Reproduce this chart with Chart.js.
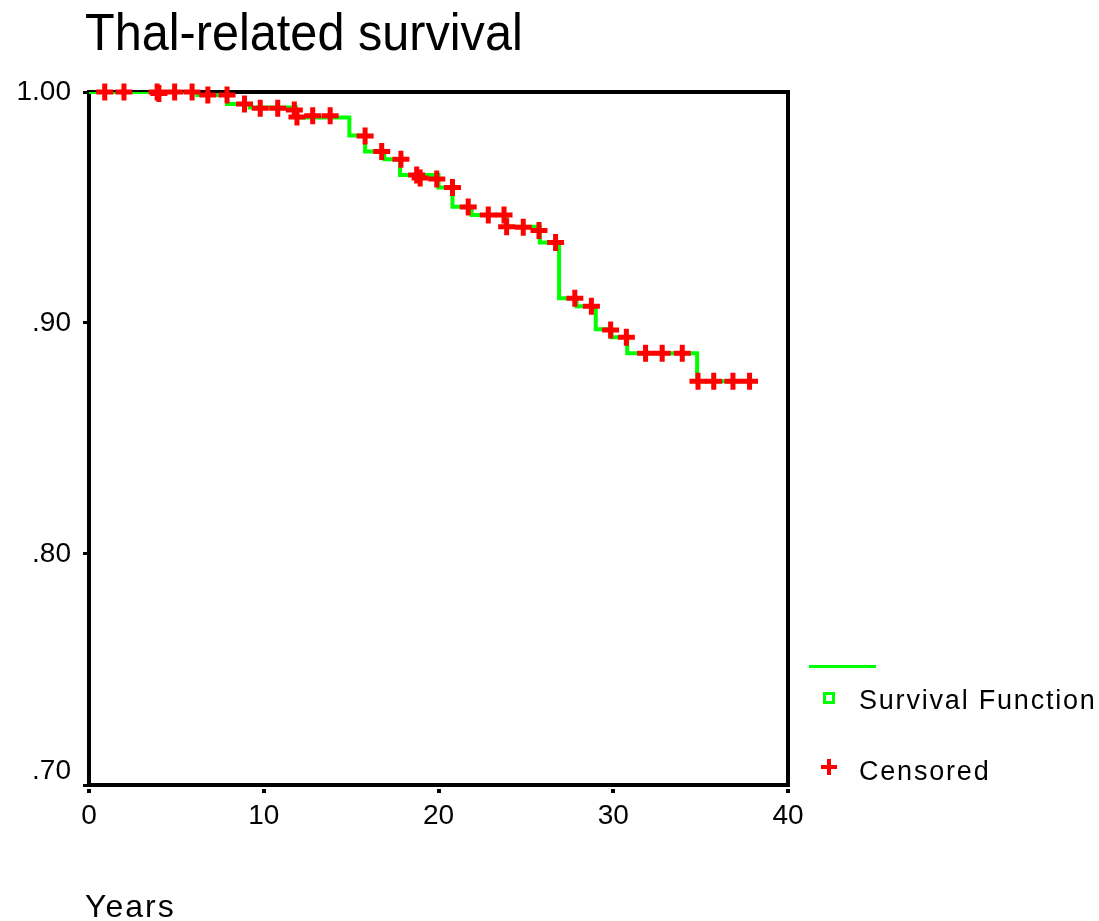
<!DOCTYPE html>
<html>
<head>
<meta charset="utf-8">
<script src="https://cdn.jsdelivr.net/npm/chart.js@4/dist/chart.umd.min.js"></script>
<style>
  body { margin: 0; background: #fff; font-family: 'Liberation Sans', Arial, sans-serif; }
  #wrap { position: relative; width: 1099px; height: 921px; }
  canvas { position: absolute; left: 0; top: 0; }
  .txt { position: absolute; color: #000; white-space: nowrap; }
  #title { left: 85px; top: 6px; font-size: 52px; line-height: 52px; transform: scaleX(0.935); transform-origin: left top; }
  #xlabel { left: 85px; top: 890px; font-size: 32px; line-height: 32px; letter-spacing: 2px; }
  .leg { left: 859px; font-size: 27px; line-height: 27px; letter-spacing: 1.8px; }
  #legline { position: absolute; left: 809px; top: 665px; width: 67px; height: 3px; background: #00ff00; }
  #legbox { position: absolute; left: 823px; top: 692px; width: 6px; height: 6px; border: 3px solid #00ff00; background: #fff; }
  .plus { position: absolute; background: #ff0000; }
</style>
</head>
<body>
<div id="wrap">
  <canvas id="kmChart" width="1099" height="921"></canvas>
  <div class="txt" id="title">Thal-related survival</div>
  <div class="txt" id="xlabel">Years</div>
  <div id="legline"></div>
  <div id="legbox"></div>
  <div class="txt leg" style="top:687px">Survival Function</div>
  <div class="plus" style="left:821px; top:765px; width:16px; height:4px"></div>
  <div class="plus" style="left:827px; top:759px; width:4px; height:16px"></div>
  <div class="txt leg" style="top:758px">Censored</div>
</div>
<script>
// survival function: time of each drop and the level after it
const survTimes = [0, 6.2, 7.9, 9.2, 11.85, 14.9, 15.8, 16.9, 17.8, 20.0, 20.8, 21.9, 23.9, 25.8, 26.9, 27.9, 29.0, 29.9, 30.8, 34.8, 38.2];
const survValues = [1.0, 0.9987, 0.9948, 0.9933, 0.9890, 0.9812, 0.9742, 0.9709, 0.9641, 0.9587, 0.9503, 0.9468, 0.9417, 0.9348, 0.9107, 0.9072, 0.8973, 0.8938, 0.8869, 0.8748, 0.8748];

// censored cases
const censTimes = [0.9, 2.0, 3.9, 4.0, 4.9, 5.9, 6.8, 7.9, 8.9, 9.8, 10.8, 11.75, 11.9, 12.8, 13.8, 15.8, 16.75, 17.85, 18.75, 18.95, 19.9, 20.8, 21.7, 22.85, 23.75, 23.9, 24.85, 25.75, 26.7, 27.8, 28.75, 29.85, 30.75, 31.85, 32.8, 33.95, 34.85, 35.75, 36.85, 37.8];
const censValues = [1, 1, 1, 0.9993, 1, 1, 0.9987, 0.9987, 0.9948, 0.993, 0.993, 0.9922, 0.9892, 0.9897, 0.9897, 0.981, 0.9742, 0.9709, 0.9641, 0.9628, 0.9623, 0.9587, 0.9502, 0.9468, 0.9468, 0.9417, 0.9414, 0.94, 0.9349, 0.9107, 0.9073, 0.897, 0.8938, 0.8869, 0.8869, 0.8869, 0.8748, 0.8748, 0.8748, 0.8748];

// axes
const xTicks = [0, 10, 20, 30, 40];
const yTicks = [0.70, 0.80, 0.90, 1.00];

const survPoints = survTimes.map((t, i) => ({ x: t, y: survValues[i] }));
const censPoints = censTimes.map((t, i) => ({ x: t, y: censValues[i] }));

const framePlugin = {
  id: 'frame',
  beforeDatasetsDraw(chart) {
    const a = chart.chartArea;
    const ctx = chart.ctx;
    ctx.save();
    ctx.strokeStyle = '#000';
    ctx.lineWidth = 4;
    ctx.strokeRect(a.left, a.top, a.right - a.left, a.bottom - a.top);
    ctx.restore();
  }
};

const ctx = document.getElementById('kmChart').getContext('2d');
new Chart(ctx, {
  type: 'line',
  data: {
    datasets: [
      {
        label: 'Censored',
        data: censPoints,
        showLine: false,
        pointStyle: 'cross',
        pointRadius: 8.5,
        pointBorderWidth: 5,
        pointBorderColor: '#ff0000',
        pointBackgroundColor: '#ff0000',
        clip: false,
        order: 0
      },
      {
        label: 'Survival Function',
        data: survPoints,
        stepped: 'before',
        borderColor: '#00ff00',
        borderWidth: 4,
        pointRadius: 0,
        fill: false,
        order: 1
      }
    ]
  },
  options: {
    responsive: false,
    animation: false,
    layout: { padding: { left: 0, top: 92, right: 311, bottom: 0 } },
    plugins: {
      legend: { display: false },
      title: { display: false },
      tooltip: { enabled: false }
    },
    scales: {
      x: {
        type: 'linear',
        min: xTicks[0],
        max: xTicks[xTicks.length - 1],
        afterBuildTicks: s => { s.ticks = xTicks.map(v => ({ value: v })); },
        afterFit: s => { s.height = 136; },
        border: { display: false },
        grid: { drawOnChartArea: false, drawTicks: true, tickLength: 8, color: '#000', lineWidth: 4, tickBorderDash: [0, 4, 4] },
        ticks: { color: '#000', font: { family: "'Liberation Sans', Arial", size: 28 }, padding: 6, maxRotation: 0 }
      },
      y: {
        min: yTicks[0],
        max: yTicks[yTicks.length - 1],
        afterBuildTicks: s => { s.ticks = yTicks.map(v => ({ value: v })); },
        afterFit: s => { s.width = 89; },
        border: { display: false },
        grid: { drawOnChartArea: false, drawTicks: true, tickLength: 6, color: '#000', lineWidth: 3 },
        ticks: {
          color: '#000',
          font: { family: "'Liberation Sans', Arial", size: 28, lineHeight: 1 },
          padding: 12,
          // bottom label sits a little above its tick, as in the original
          callback: (v, i) => {
            const txt = Number(v).toFixed(2).replace(/^0/, '');
            return i === 0 ? [txt, ''] : txt;
          }
        }
      }
    }
  },
  plugins: [framePlugin]
});
</script>
</body>
</html>
